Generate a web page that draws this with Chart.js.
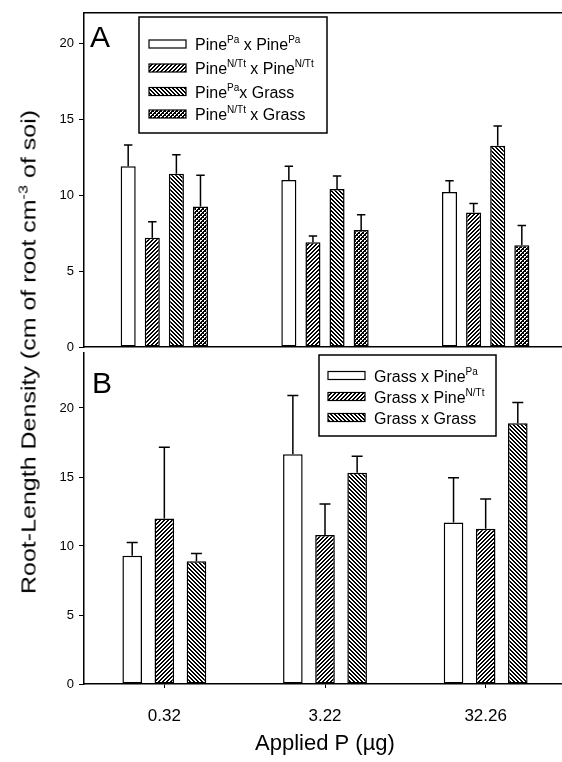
<!DOCTYPE html>
<html>
<head>
<meta charset="utf-8">
<script src="https://cdn.jsdelivr.net/npm/chart.js@4.4.0/dist/chart.umd.min.js"></script>
<style>
  html, body { margin: 0; padding: 0; background: #fff; width: 562px; height: 762px; overflow: hidden; }
  .panel { position: absolute; left: 0; }
  #wrapA { top: 0; }
  #wrapB { top: 340px; }
  #yTitle {
    position: absolute; left: 29px; top: 352px;
    font: 20px "Liberation Sans", Arial, sans-serif; color: #000; white-space: nowrap;
    transform: translate(-50%, -50%) rotate(-90deg) scaleX(1.25);
  }
  #yTitle sup { font-size: 13px; vertical-align: 8px; line-height: 0; }
</style>
</head>
<body>
<div class="panel" id="wrapA"><canvas id="chartA" width="570" height="360"></canvas></div>
<div class="panel" id="wrapB"><canvas id="chartB" width="570" height="422"></canvas></div>
<div id="yTitle">Root-Length Density (cm of root cm<sup>-3</sup> of soi)</div>
<script>
// doses of applied P
const doses = ['0.32', '3.22', '32.26'];

// panel A : pine as target
const labelsA = [
  'Pine<sup>Pa</sup> x Pine<sup>Pa</sup>',
  'Pine<sup>N/Tt</sup> x Pine<sup>N/Tt</sup>',
  'Pine<sup>Pa</sup>x Grass',
  'Pine<sup>N/Tt</sup> x Grass'
];
const papaA = [11.9, 11.0, 10.2];
const ntntA = [7.2, 6.9, 8.85];
const paGrassA = [11.4, 10.4, 13.25];
const ntGrassA = [9.25, 7.7, 6.7];
const papaErrA = [1.4, 0.9, 0.75];
const ntntErrA = [1.05, 0.4, 0.6];
const paGrassErrA = [1.25, 0.85, 1.3];
const ntGrassErrA = [2.05, 1.0, 1.3];

// panel B : grass as target
const labelsB = [
  'Grass x Pine<sup>Pa</sup>',
  'Grass x Pine<sup>N/Tt</sup>',
  'Grass x Grass'
];
const grassPaB = [9.3, 16.65, 11.7];
const grassNtB = [12.0, 10.8, 11.25];
const grassGrassB = [8.9, 15.3, 18.9];
const grassPaErrB = [0.95, 4.25, 3.25];
const grassNtErrB = [5.15, 2.25, 2.15];
const grassGrassErrB = [0.55, 1.2, 1.5];

const yTicks = [0, 5, 10, 15, 20];
const FONT = '"Liberation Sans", Arial, sans-serif';

// small black & white fill patterns
function makePattern(kind) {
  if (kind === 'open') return '#ffffff';
  const c = document.createElement('canvas');
  c.width = 4; c.height = 4;
  const g = c.getContext('2d');
  g.fillStyle = kind === 'dots' ? '#000' : '#fff';
  g.fillRect(0, 0, 4, 4);
  g.fillStyle = kind === 'dots' ? '#fff' : '#000';
  for (let y = 0; y < 4; y++) {
    if (kind === 'fwd') {
      g.fillRect((3 - y) % 4, y, 1, 1);
      g.fillRect((4 - y) % 4, y, 1, 1);
    } else if (kind === 'back') {
      g.fillRect(y, y, 1, 1);
      g.fillRect((y + 1) % 4, y, 1, 1);
    }
  }
  if (kind === 'dots') {
    g.fillRect(0, 0, 2, 1); g.fillRect(0, 1, 1, 1);
    g.fillRect(2, 2, 2, 1); g.fillRect(2, 3, 1, 1);
  }
  return g.createPattern(c, 'repeat');
}

function drawRich(ctx, text, x, y) {
  const parts = text.split(/<sup>(.*?)<\/sup>/);
  parts.forEach((p, i) => {
    if (!p) return;
    const sup = i % 2 === 1;
    ctx.font = (sup ? '10px ' : '16px ') + FONT;
    ctx.fillText(p, x, sup ? y - 7 : y);
    x += ctx.measureText(p).width;
  });
}

// error bars, panel letter, legend box, top frame line
const decor = {
  id: 'decor',
  afterDatasetsDraw(chart) {
    const ctx = chart.ctx;
    const yScale = chart.scales.y;
    ctx.save();
    ctx.strokeStyle = '#000';
    ctx.lineWidth = 1.5;
    chart.data.datasets.forEach((ds, i) => {
      chart.getDatasetMeta(i).data.forEach((bar, j) => {
        const top = yScale.getPixelForValue(ds.data[j] + ds.err[j]);
        const half = bar.width * 0.28;
        ctx.beginPath();
        ctx.moveTo(bar.x, bar.y);
        ctx.lineTo(bar.x, top);
        ctx.moveTo(bar.x - half, top);
        ctx.lineTo(bar.x + half, top);
        ctx.stroke();
      });
    });
    ctx.restore();
  },
  afterDraw(chart, args, opts) {
    const ctx = chart.ctx;
    const area = chart.chartArea;
    ctx.save();
    ctx.strokeStyle = '#000';
    ctx.fillStyle = '#000';
    if (opts.topLine) {
      ctx.lineWidth = 1.5;
      ctx.beginPath();
      ctx.moveTo(area.left, area.top);
      ctx.lineTo(chart.width, area.top);
      ctx.stroke();
    }
    ctx.font = '30px ' + FONT;
    ctx.fillText(opts.letter, opts.letterX, opts.letterY);

    const b = opts.box;
    ctx.lineWidth = 1.5;
    ctx.strokeRect(b[0], b[1], b[2] - b[0], b[3] - b[1]);
    chart.data.datasets.forEach((ds, i) => {
      const base = opts.rows[i];
      const sy = base - 10;
      ctx.fillStyle = ds.backgroundColor;
      ctx.fillRect(opts.swatchX, sy, opts.swatchW, 8);
      ctx.lineWidth = 1.2;
      ctx.strokeRect(opts.swatchX, sy, opts.swatchW, 8);
      ctx.fillStyle = '#000';
      drawRich(ctx, ds.label, opts.textX, base);
    });
    ctx.restore();
  }
};

const fills = [makePattern('open'), makePattern('fwd'), makePattern('back'), makePattern('dots')];

function barSet(label, data, err, fill) {
  return {
    label: label, data: data, err: err,
    backgroundColor: fill, borderColor: '#000', borderWidth: 1.5, borderSkipped: false
  };
}

function yAxis(max) {
  return {
    min: 0, max: max,
    afterFit: s => { s.width = 84; },
    afterBuildTicks: s => { s.ticks = yTicks.map(v => ({ value: v })); },
    ticks: { color: '#000', font: { size: 13, family: FONT }, padding: 5 },
    grid: { drawOnChartArea: false, tickLength: 5, color: '#000', tickWidth: 1 },
    border: { color: '#000', width: 1.5 }
  };
}

new Chart(document.getElementById('chartA'), {
  type: 'bar',
  data: {
    labels: doses,
    datasets: [
      barSet(labelsA[0], papaA, papaErrA, fills[0]),
      barSet(labelsA[1], ntntA, ntntErrA, fills[1]),
      barSet(labelsA[2], paGrassA, paGrassErrA, fills[2]),
      barSet(labelsA[3], ntGrassA, ntGrassErrA, fills[3])
    ]
  },
  options: {
    responsive: false,
    animation: false,
    layout: { padding: { top: 11, right: 4, left: 0, bottom: 0 } },
    datasets: { bar: { categoryPercentage: 0.6, barPercentage: 0.625 } },
    scales: {
      x: {
        afterFit: s => { s.height = 13; },
        ticks: { display: false },
        grid: { display: false },
        border: { color: '#000', width: 1.5 }
      },
      y: yAxis(22)
    },
    plugins: {
      legend: { display: false },
      tooltip: { enabled: false },
      decor: {
        topLine: true, letter: 'A', letterX: 90, letterY: 47,
        box: [139, 17, 327, 133], swatchX: 149, swatchW: 37, textX: 195,
        rows: [50, 74, 97.5, 120]
      }
    }
  },
  plugins: [decor]
});

new Chart(document.getElementById('chartB'), {
  type: 'bar',
  data: {
    labels: doses,
    datasets: [
      barSet(labelsB[0], grassPaB, grassPaErrB, fills[0]),
      barSet(labelsB[1], grassNtB, grassNtErrB, fills[1]),
      barSet(labelsB[2], grassGrassB, grassGrassErrB, fills[2])
    ]
  },
  options: {
    responsive: false,
    animation: false,
    layout: { padding: { top: 7, right: 4, left: 0, bottom: 0 } },
    datasets: { bar: { categoryPercentage: 0.6, barPercentage: 0.61 } },
    scales: {
      x: {
        afterFit: s => { s.height = 78; },
        ticks: { color: '#000', font: { size: 17, family: FONT }, padding: 18, maxRotation: 0 },
        grid: { drawOnChartArea: false, offset: false, tickLength: 4, color: '#000' },
        border: { color: '#000', width: 1.5 },
        title: {
          display: true, text: 'Applied P (µg)', color: '#000',
          font: { size: 22, family: FONT }, padding: { top: 0, bottom: 5 }
        }
      },
      y: yAxis(24)
    },
    plugins: {
      legend: { display: false },
      tooltip: { enabled: false },
      decor: {
        topLine: false, letter: 'B', letterX: 92, letterY: 53,
        box: [319, 15, 496, 96], swatchX: 328, swatchW: 37, textX: 374,
        rows: [41.5, 62.5, 83.5]
      }
    }
  },
  plugins: [decor]
});
</script>
</body>
</html>
